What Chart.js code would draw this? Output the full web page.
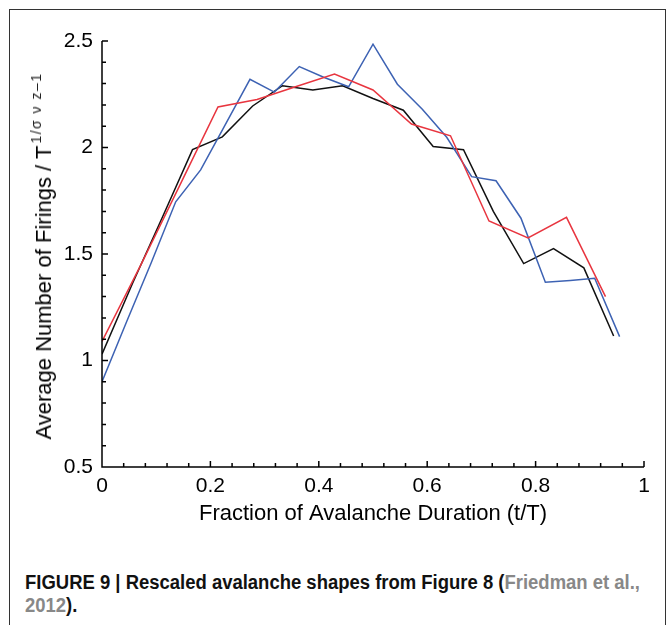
<!DOCTYPE html>
<html>
<head>
<meta charset="utf-8">
<script src="https://cdn.jsdelivr.net/npm/chart.js@4.4.0/dist/chart.umd.min.js"></script>
<style>
body { margin: 0; background: #fff; }
#wrap { position: relative; width: 667px; height: 625px; overflow: hidden; background: #fff; }
#frame { position: absolute; left: 9px; top: 9px; width: 655px; height: 700px; border: 1.5px solid #333; border-bottom: none; }
#chart { position: absolute; left: 0; top: 0; }
#ytitle { position: absolute; left: 44px; top: 256px; transform: translate(-50%, -50%) rotate(-90deg);
  white-space: nowrap; font: 22px "Liberation Sans", Arial, sans-serif; line-height: 1; color: #000; }
#ytitle .sup { font-size: 14px; position: relative; top: -10px; letter-spacing: 1.5px; color: #222; margin-left: 2px; }
#caption { position: absolute; left: 25px; top: 571px; font: bold 20px "Liberation Sans Narrow", "Liberation Sans", Arial, sans-serif;
  line-height: 23px; color: #111; white-space: nowrap; }
#caption .ref { color: #888; }
#line1 { display: inline-block; transform-origin: left center; }
#line2 { display: inline-block; transform-origin: left center; }
</style>
</head>
<body>
<div id="wrap">
  <div id="frame"></div>
  <canvas id="chart" width="667" height="540"></canvas>
  <div id="ytitle">Average Number of Firings / T<span class="sup">1/σ ν z–1</span></div>
  <div id="caption">
    <span id="line1">FIGURE 9 | Rescaled avalanche shapes from Figure 8 (<span class="ref">Friedman et al.,</span></span><br>
    <span id="line2"><span class="ref">2012</span>).</span>
  </div>
</div>
<script>
// values
var blackX = [0, 0.056, 0.111, 0.167, 0.222, 0.278, 0.333, 0.389, 0.444, 0.5, 0.556, 0.611, 0.667, 0.722, 0.778, 0.833, 0.889, 0.944];
var blackY = [1.03, 1.36, 1.67, 1.99, 2.05, 2.195, 2.29, 2.27, 2.29, 2.23, 2.175, 2.005, 1.99, 1.70, 1.455, 1.525, 1.435, 1.115];

var redX = [0, 0.071, 0.143, 0.214, 0.286, 0.357, 0.429, 0.5, 0.571, 0.643, 0.714, 0.786, 0.857, 0.929];
var redY = [1.09, 1.445, 1.82, 2.19, 2.225, 2.285, 2.345, 2.27, 2.11, 2.055, 1.655, 1.575, 1.672, 1.30];

var blueX = [0, 0.045, 0.091, 0.136, 0.182, 0.227, 0.273, 0.318, 0.364, 0.409, 0.455, 0.5, 0.545, 0.591, 0.636, 0.682, 0.727, 0.773, 0.818, 0.864, 0.909, 0.955];
var blueY = [0.90, 1.18, 1.46, 1.745, 1.895, 2.105, 2.32, 2.26, 2.38, 2.33, 2.285, 2.485, 2.297, 2.18, 2.048, 1.863, 1.844, 1.668, 1.367, 1.376, 1.386, 1.112];

var xTicks = [0, 0.2, 0.4, 0.6, 0.8, 1];
var yTicks = [0.5, 1, 1.5, 2, 2.5];
var xTitle = "Fraction of Avalanche Duration (t/T)";

function toPoints(xs, ys) {
    var pts = [];
    for (var i = 0; i < xs.length; i++) {
        pts.push({ x: xs[i], y: ys[i] });
    }
    return pts;
}

// inward ticks + axis lines, like the original plot
var axisTicks = {
    id: 'axisTicks',
    afterDraw: function (chart) {
        var ctx = chart.ctx;
        var a = chart.chartArea;
        var xs = chart.scales.x;
        var ys = chart.scales.y;
        ctx.save();
        ctx.strokeStyle = '#000';
        ctx.lineWidth = 1.5;
        ctx.beginPath();
        ctx.moveTo(a.left, a.top);
        ctx.lineTo(a.left, a.bottom);
        ctx.lineTo(a.right, a.bottom);
        for (var i = 0; i <= 25; i++) {
            var px = xs.getPixelForValue(i * 0.04);
            var len = i % 5 === 0 ? 6 : 4;
            ctx.moveTo(px, a.bottom);
            ctx.lineTo(px, a.bottom - len);
        }
        for (var j = 0; j <= 20; j++) {
            var py = ys.getPixelForValue(0.5 + j * 0.1);
            var len2 = j % 5 === 0 ? 6 : 4;
            ctx.moveTo(a.left, py);
            ctx.lineTo(a.left + len2, py);
        }
        ctx.stroke();
        ctx.restore();
    }
};

var tickFont = { family: '"Liberation Sans", Arial, sans-serif', size: 21 };
var titleFont = { family: '"Liberation Sans", Arial, sans-serif', size: 22 };

function plainLabel(value) {
    return String(Math.round(value * 10) / 10);
}

var theChart = new Chart(document.getElementById('chart'), {
    type: 'scatter',
    data: {
        datasets: [
            { data: toPoints(redX, redY), borderColor: '#e8353f', borderWidth: 1.5, showLine: true, pointRadius: 0, tension: 0 },
            { data: toPoints(blueX, blueY), borderColor: '#3d62b3', borderWidth: 1.5, showLine: true, pointRadius: 0, tension: 0 },
            { data: toPoints(blackX, blackY), borderColor: '#111', borderWidth: 1.5, showLine: true, pointRadius: 0, tension: 0 }
        ]
    },
    options: {
        responsive: false,
        animation: false,
        layout: { padding: { top: 41, right: 23, left: 0, bottom: 0 } },
        plugins: { legend: { display: false }, tooltip: { enabled: false } },
        scales: {
            x: {
                type: 'linear', min: 0, max: 1,
                grid: { display: false, drawTicks: false },
                border: { display: false },
                afterBuildTicks: function (scale) { scale.ticks = xTicks.map(function (v) { return { value: v }; }); },
                ticks: { color: '#000', font: tickFont, padding: 7, maxRotation: 0, autoSkip: false, callback: plainLabel },
                title: { display: true, text: xTitle, color: '#000', font: titleFont, padding: { top: 0, bottom: 13 } },
                afterFit: function (scale) { scale.height = 73; }
            },
            y: {
                type: 'linear', min: 0.5, max: 2.5,
                grid: { display: false, drawTicks: false },
                border: { display: false },
                afterBuildTicks: function (scale) { scale.ticks = yTicks.map(function (v) { return { value: v }; }); },
                ticks: { color: '#000', font: tickFont, padding: 9, autoSkip: false, callback: plainLabel },
                afterFit: function (scale) { scale.width = 102; }
            }
        }
    },
    plugins: [axisTicks]
});

// fit caption line to the condensed width of the original
var l1 = document.getElementById('line1');
var l2 = document.getElementById('line2');
var w = l1.getBoundingClientRect().width;
var s = 615 / w;
l1.style.transform = 'scaleX(' + s + ')';
l2.style.transform = 'scaleX(' + s + ')';
</script>
</body>
</html>
